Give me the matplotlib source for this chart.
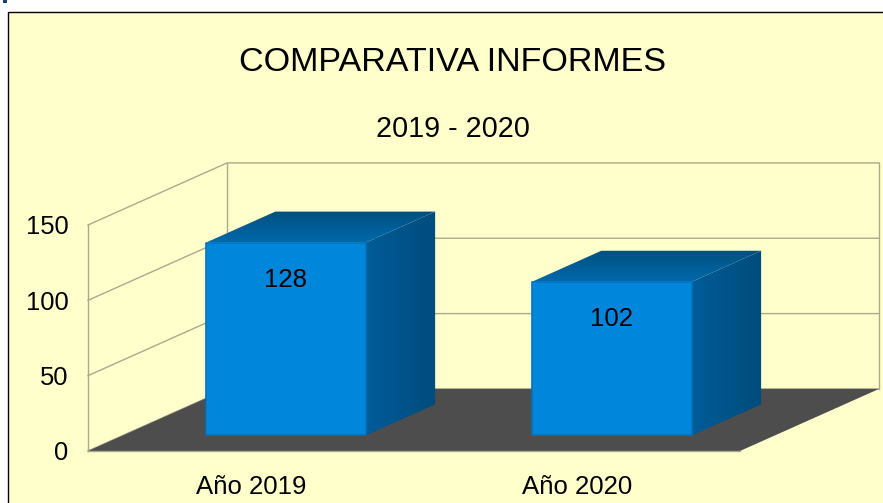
import matplotlib
matplotlib.use('Agg')
import matplotlib.pyplot as plt
from matplotlib.patches import Polygon, Rectangle
import numpy as np

plt.rcParams['font.family'] = ['Liberation Sans', 'DejaVu Sans']

categories = ['Año 2019', 'Año 2020']
values = [128, 102]
y_ticks = [0, 50, 100, 150]
title = 'COMPARATIVA INFORMES'
subtitle = '2019 - 2020'

W, H = 883, 503
GRID = '#a9a98f'
DEPTH_X = 0.4264  # depth offset of the 3d box, in category units
DEPTH_Y = 41.2    # and in value units
BAR_W = 0.49

fig = plt.figure(figsize=(W / 100, H / 100), dpi=100, facecolor='white')

# chart area background, cut off by the right and bottom of the image
fig.add_artist(Rectangle((8.0 / W, -0.01), 1, 1.01 - 11.5 / H, transform=fig.transFigure,
                         facecolor='#ffffcc', edgecolor='black', linewidth=1, zorder=-2))
fig.add_artist(Rectangle((3 / W, 1 - 3 / H), 4 / W, 3 / H, transform=fig.transFigure,
                         facecolor='#1f3f6f', edgecolor='none', zorder=-2))

ax = fig.add_axes([88 / W, 1 - 451 / H, 652 / W, 226 / H])
ax.set_xlim(-0.5, 1.5)
ax.set_ylim(0, 150)
ax.patch.set_visible(False)
for s in ax.spines.values():
    s.set_visible(False)
ax.set_autoscale_on(False)


def pt(x, y, d=0.0):
    return (x + d * DEPTH_X, y + d * DEPTH_Y)


def face(points, **kw):
    p = Polygon(points, closed=True, clip_on=False, **kw)
    ax.add_patch(p)
    return p


def gradient_face(points, c0, c1, horizontal, z):
    # polygon filled with a two colour gradient
    p = face(points, facecolor='none', edgecolor='none', zorder=z)
    xs = [q[0] for q in points]
    ys = [q[1] for q in points]
    c0 = np.array(matplotlib.colors.to_rgb(c0))
    c1 = np.array(matplotlib.colors.to_rgb(c1))
    t = np.linspace(0, 1, 64)
    img = c0[None, :] * (1 - t[:, None]) + c1[None, :] * t[:, None]
    img = img[None, :, :] if horizontal else img[:, None, :]
    im = ax.imshow(img, extent=(min(xs), max(xs), min(ys), max(ys)), origin='lower',
                   aspect='auto', zorder=z, interpolation='bilinear')
    im.set_clip_box(fig.bbox)  # the boxes stick out of the front plane axes
    im.set_clip_path(p)


x0, x1 = ax.get_xlim()
y0, y1 = ax.get_ylim()

# floor
face([pt(x0, 0), pt(x1, 0), pt(x1, 0, 1), pt(x0, 0, 1)], facecolor='#4d4d4d',
     edgecolor='none', zorder=1)
ax.plot([x0, x1], [0, 0], color=GRID, lw=1, zorder=1.5, clip_on=False)

# walls and gridlines
for t in y_ticks:
    a, b, c = pt(x0, t), pt(x0, t, 1), pt(x1, t, 1)
    ax.plot([a[0], b[0], c[0]], [a[1], b[1], c[1]], color=GRID, lw=1, zorder=0.5,
            clip_on=False, solid_joinstyle='miter')
for x, d in [(x0, 0), (x0, 1), (x1, 1)]:
    a, b = pt(x, 0, d), pt(x, y1, d)
    ax.plot([a[0], b[0]], [a[1], b[1]], color=GRID, lw=1, zorder=0.5, clip_on=False)

# bars as boxes standing between depth 0.25 and 0.75
for i, v in enumerate(values):
    l, r = i - BAR_W / 2, i + BAR_W / 2
    z = 3 + i
    gradient_face([pt(r, 0, .25), pt(r, 0, .75), pt(r, v, .75), pt(r, v, .25)],
                  '#005c98', '#004c7c', True, z)
    gradient_face([pt(l, v, .25), pt(r, v, .25), pt(r, v, .75), pt(l, v, .75)],
                  '#0069ac', '#00507f', False, z)
    face([pt(l, 0, .25), pt(r, 0, .25), pt(r, v, .25), pt(l, v, .25)],
         facecolor='#0087dc', edgecolor='#0074be', linewidth=1.2, joinstyle='round', zorder=z + .1)
    ax.annotate(str(v), pt(i, v, .25), xytext=(0, -26.7), textcoords='offset points',
                ha='center', va='center', fontsize=18.6, color='black', zorder=z + .2)

ax.set_xticks(range(len(categories)), categories)
ax.set_yticks(y_ticks)
ax.tick_params(axis='both', length=0, colors='black')
ax.tick_params(axis='x', pad=17.5, labelsize=18.5)
ax.tick_params(axis='y', pad=14, labelsize=18.4)

fig.text(453 / W, 1 - 63 / H, title, ha='center', va='center', fontsize=24.6, color='black')
fig.text(453 / W, 1 - 129 / H, subtitle, ha='center', va='center', fontsize=20.7, color='black')

fig.savefig('out.png', dpi=100)
